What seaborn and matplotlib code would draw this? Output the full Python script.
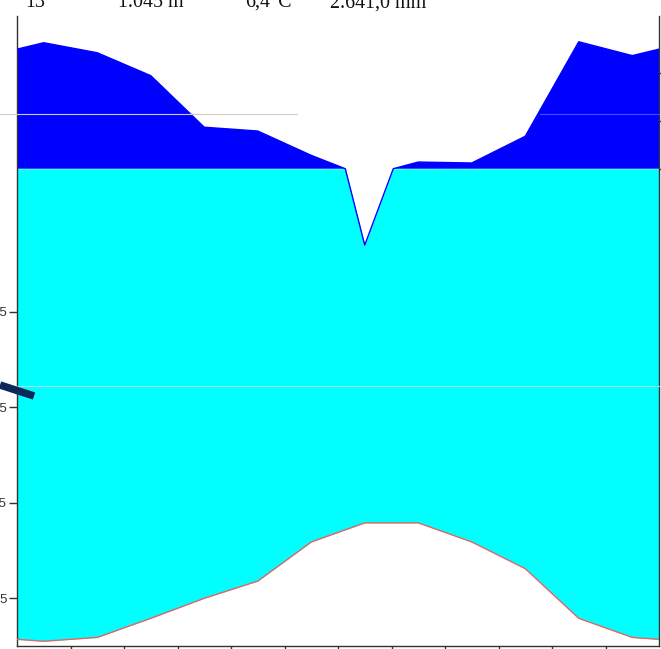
import numpy as np
import pandas as pd
import matplotlib
matplotlib.use("Agg")
import matplotlib.pyplot as plt
import seaborn as sns
from matplotlib.lines import Line2D

# ---------------- data ----------------
months = ["Jan", "Feb", "Mar", "Apr", "May", "Jun",
          "Jul", "Aug", "Sep", "Oct", "Nov", "Dec"]
temperature = [0.5, 0.9, 2.9, 5.0, 6.8, 10.9, 12.9, 12.9, 10.9, 8.1, 2.9, 0.9]   # deg C
precipitation = [364, 343, 295, 187, 179, 128, 84, 114, 112, 168, 366, 337]    # mm
header = ["13", "1.045 m", "6,4°C", "2.641,0 mm"]
temp_ticks = [5, 15, 25, 35]
temp_tick_labels = ["5", "15", "25", "35"]
prec_ticks_mm = [100, 200, 300]

# ---------------- helpers ----------------
def scale_p(mm):
    mm = np.asarray(mm, dtype=float)
    return np.where(mm <= 100, mm / 2.0, 50 + (mm - 100) / 20.0)

W, H = 661, 649
sns.set_theme(style="white")
plt.rcParams["font.family"] = ["Liberation Sans", "DejaVu Sans"]

fig = plt.figure(figsize=(W / 100, H / 100), dpi=100)
ax = fig.add_axes([17 / W, 3 / H, 642 / W, 630 / H])

# month centres, closed at both edges with the Dec/Jan mean
x = np.concatenate([[0.0], np.arange(12) + 0.5, [12.0]])
t_edge = (temperature[-1] + temperature[0]) / 2
p_edge = (precipitation[-1] + precipitation[0]) / 2
t = np.concatenate([[t_edge], temperature, [t_edge]])
p = np.concatenate([[p_edge], precipitation, [p_edge]])

# add the exact 100 mm crossing points so the scale break is drawn correctly
xs, ps = [x[0]], [p[0]]
for i in range(len(x) - 1):
    if (p[i] - 100) * (p[i + 1] - 100) < 0:
        f = (100 - p[i]) / (p[i + 1] - p[i])
        xs.append(x[i] + f * (x[i + 1] - x[i]))
        ps.append(100.0)
    xs.append(x[i + 1])
    ps.append(p[i + 1])
xs = np.array(xs)
pp = scale_p(ps)
ts = np.interp(xs, x, t)

# humid period (cyan) and >100 mm part (blue)
ax.fill_between(xs, ts, np.minimum(pp, 50), color="#00ffff", lw=0, zorder=1)
ax.fill_between(xs, 50, pp, where=pp >= 50, interpolate=True,
                color="#0000ff", lw=0, zorder=2)

df_p = pd.DataFrame({"x": xs, "p": pp})
df_t = pd.DataFrame({"x": x, "t": t})
sns.lineplot(data=df_p, x="x", y="p", color="#0000ff", lw=1.0, ax=ax,
             sort=False, estimator=None, zorder=3)
sns.lineplot(data=df_t, x="x", y="t", color="#e86464", lw=1.0, ax=ax,
             sort=False, estimator=None, zorder=3)

ax.set_xlim(0, 12)
ax.set_ylim(0, 66)
ax.set_xlabel("")
ax.set_ylabel("")

# axes / ticks
for s in ["left", "right", "bottom"]:
    ax.spines[s].set_visible(True)
    ax.spines[s].set_color("#333333")
    ax.spines[s].set_linewidth(1.0)
ax.spines["top"].set_visible(False)

ax.set_xticks(np.arange(1, 12))
ax.set_xticklabels([])
ax.set_yticks(temp_ticks)
ax.set_yticklabels(temp_tick_labels, fontsize=9.5, color="#333333")
ax.tick_params(axis="y", which="both", left=True, length=6, width=1,
               color="#333333", pad=1.2, direction="out")
ax.tick_params(axis="x", bottom=True, length=5, width=1, color="#333333",
               direction="out")

axr = ax.twinx()
axr.set_ylim(0, 66)
axr.set_yticks(scale_p(prec_ticks_mm))
axr.set_yticklabels([])
axr.tick_params(axis="y", right=True, length=6, width=1, color="#333333",
                direction="out")
for s in axr.spines.values():
    s.set_visible(False)
ax.grid(False)
axr.grid(False)

# header
hx = [25, 118, 245, 330]
for txt, px in zip(header, hx):
    fig.text(px / W, 1 - 7.3 / H, txt, ha="left", va="baseline",
             fontsize=14.4, family=["Liberation Serif", "DejaVu Serif"],
             color="#111111")

# overlay artefacts from the reference
def fl(x0, y0, x1, y1, **kw):
    fig.add_artist(Line2D([x0 / W, x1 / W], [1 - y0 / H, 1 - y1 / H],
                          transform=fig.transFigure, **kw))

fl(0, 113.5, 297, 113.5, color="#d2ccc6", lw=0.8, zorder=10)
fl(540, 113.5, 659, 113.5, color="#4a4aff", lw=0.8, zorder=10)
fl(17, 385.5, 659, 385.5, color="#a6e2e2", lw=0.8, zorder=10)
fl(0, 385, 34, 396, color="#0b2858", lw=5.4, solid_capstyle="butt", zorder=11)

fig.savefig("out.png", dpi=100)
